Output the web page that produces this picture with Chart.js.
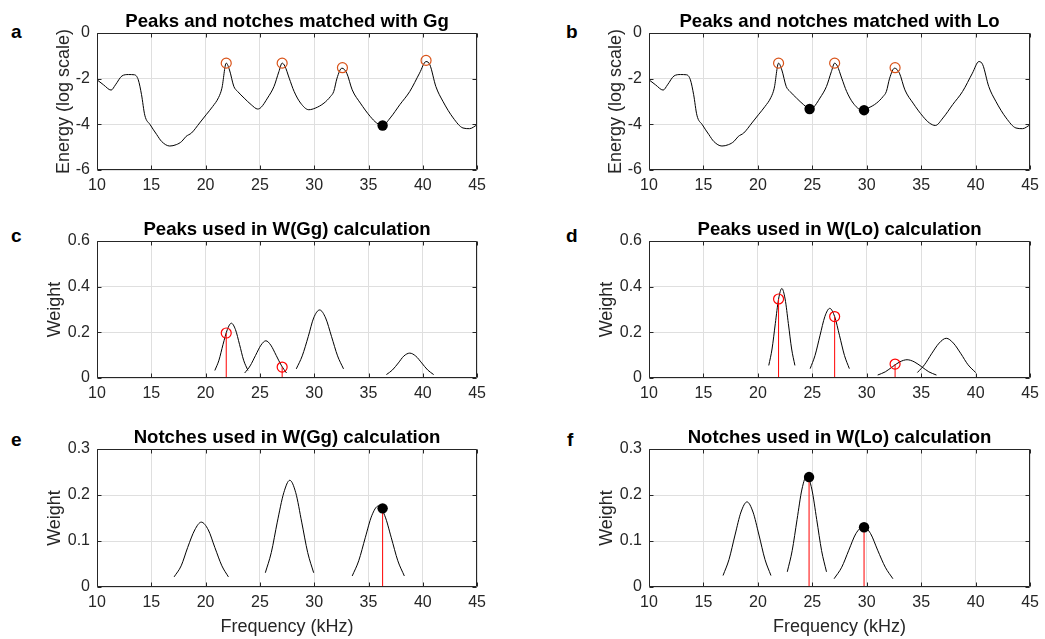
<!DOCTYPE html>
<html>
<head>
<meta charset="utf-8">
<script src="https://cdn.jsdelivr.net/npm/chart.js@4.4.1/dist/chart.umd.min.js"></script>
<style>
  body { margin: 0; background: #fff; }
  #fig { position: relative; width: 1045px; height: 639px; overflow: hidden; }
  #fig canvas { position: absolute; }
  .lbl { position: absolute; font: bold 19px 'Liberation Sans', Arial, sans-serif; line-height: 19px; color: #000; }
</style>
</head>
<body>
<div id="fig">
  <div class="lbl" style="left:11px;top:22px">a</div>
  <div class="lbl" style="left:566px;top:22px">b</div>
  <div class="lbl" style="left:11px;top:226px">c</div>
  <div class="lbl" style="left:566px;top:226px">d</div>
  <div class="lbl" style="left:11px;top:430px">e</div>
  <div class="lbl" style="left:567px;top:430px">f</div>
</div>
<script>
// tick labels
var xTicks = [10, 15, 20, 25, 30, 35, 40, 45];
var energyTicks = [-6, -4, -2, 0];
var peakTicks = [0, 0.2, 0.4, 0.6];
var notchTicks = [0, 0.1, 0.2, 0.3];

// spectrum (same in a and b)
var freq = [10, 10.6, 11.3, 11.7, 12.3, 12.9, 13.45, 13.8, 14.1, 14.4, 14.9, 15.5, 15.95, 16.7, 17.3, 17.8,
  18.2, 18.7, 19.45, 20.05, 20.65, 21.2, 21.5, 21.9, 22.2, 22.6, 22.95, 23.55, 24.2, 24.8, 25.1, 25.7,
  26.3, 26.75, 27.05, 27.3, 27.7, 28.15, 28.75, 29.5, 30.1, 30.9, 31.5, 31.8, 32.1, 32.55, 33.0, 33.5,
  34.25, 35.15, 35.75, 36.3, 37.0, 37.9, 38.8, 39.7, 40.3, 40.65, 41.2, 41.85, 42.8, 43.7, 44.3, 45];
var energy = [-2.05, -2.27, -2.5, -2.27, -1.88, -1.82, -1.83, -2.05, -2.7, -3.6, -4.02, -4.45, -4.75, -4.95, -4.89, -4.75,
  -4.53, -4.38, -3.94, -3.58, -3.22, -2.82, -2.42, -1.32, -1.62, -2.34, -2.56, -2.85, -3.14, -3.33, -3.26, -2.85,
  -2.34, -1.69, -1.32, -1.45, -1.98, -2.56, -3.07, -3.36, -3.29, -3.07, -2.78, -2.56, -1.98, -1.54, -1.76, -2.49,
  -3.07, -3.65, -3.94, -4.05, -3.72, -3.13, -2.56, -1.76, -1.25, -1.39, -2.34, -2.99, -3.72, -4.16, -4.19, -4.02];

// matched peaks / notches on the spectrum
var ggPeakF = [21.9, 27.05, 32.6, 40.3];
var ggPeakE = [-1.32, -1.32, -1.52, -1.2];
var ggNotchF = [36.3];
var ggNotchE = [-4.05];
var loPeakF = [21.9, 27.05, 32.6];
var loPeakE = [-1.32, -1.32, -1.52];
var loNotchF = [24.75, 29.75];
var loNotchE = [-3.33, -3.38];

// weight curves, panel c
var ggPeakCurveX = [
  [20.85, 21.23, 21.6, 22.0, 22.37, 22.75, 23.13, 23.5, 23.9],
  [23.6, 24.1, 24.6, 25.1, 25.55, 26.0, 26.5, 27.0, 27.45],
  [28.35, 28.9, 29.45, 29.95, 30.5, 31.05, 31.6, 32.15, 32.7],
  [36.65, 37.2, 37.75, 38.25, 38.8, 39.35, 39.9, 40.45, 41.0]];
var ggPeakCurveW = [
  [0.033, 0.078, 0.146, 0.212, 0.24, 0.212, 0.146, 0.078, 0.033],
  [0.022, 0.053, 0.099, 0.144, 0.163, 0.144, 0.099, 0.053, 0.022],
  [0.04, 0.097, 0.181, 0.263, 0.298, 0.263, 0.181, 0.097, 0.04],
  [0.015, 0.035, 0.066, 0.096, 0.109, 0.096, 0.066, 0.035, 0.015]];
var ggPeakUsedF = [21.9, 27.05];
var ggPeakUsedW = [0.197, 0.048];

// panel d
var loPeakCurveX = [
  [21.0, 21.3, 21.6, 21.9, 22.2, 22.5, 22.8, 23.1, 23.4],
  [24.8, 25.25, 25.7, 26.15, 26.6, 27.05, 27.5, 27.95, 28.4],
  [31.0, 31.7, 32.35, 33.05, 33.7, 34.35, 35.05, 35.7, 36.4],
  [34.65, 35.3, 35.95, 36.65, 37.3, 37.95, 38.65, 39.3, 40.0]];
var loPeakCurveW = [
  [0.055, 0.127, 0.238, 0.346, 0.392, 0.346, 0.238, 0.127, 0.055],
  [0.041, 0.099, 0.185, 0.269, 0.305, 0.269, 0.185, 0.099, 0.041],
  [0.013, 0.027, 0.049, 0.071, 0.08, 0.071, 0.049, 0.027, 0.013],
  [0.024, 0.058, 0.106, 0.153, 0.174, 0.153, 0.106, 0.058, 0.024]];
var loPeakUsedF = [21.9, 27.05, 32.6];
var loPeakUsedW = [0.346, 0.269, 0.061];

// panel e
var ggNotchCurveX = [
  [17.1, 17.75, 18.35, 19.0, 19.6, 20.25, 20.85, 21.5, 22.1],
  [25.5, 26.05, 26.6, 27.2, 27.75, 28.3, 28.85, 29.4, 29.95],
  [33.5, 34.1, 34.7, 35.3, 35.9, 36.5, 37.1, 37.7, 38.3]];
var ggNotchCurveW = [
  [0.022, 0.046, 0.086, 0.124, 0.141, 0.124, 0.086, 0.046, 0.022],
  [0.031, 0.075, 0.141, 0.205, 0.232, 0.205, 0.141, 0.075, 0.031],
  [0.024, 0.057, 0.107, 0.155, 0.176, 0.155, 0.107, 0.057, 0.024]];
var ggNotchUsedF = [36.3];
var ggNotchUsedW = [0.171];

// panel f
var loNotchCurveX = [
  [16.8, 17.35, 17.9, 18.45, 19.0, 19.55, 20.1, 20.65, 21.2],
  [22.7, 23.15, 23.6, 24.05, 24.5, 24.95, 25.4, 25.85, 26.3],
  [27.0, 27.7, 28.35, 29.0, 29.7, 30.35, 31.0, 31.7, 32.4]];
var loNotchCurveW = [
  [0.025, 0.06, 0.113, 0.163, 0.185, 0.163, 0.113, 0.06, 0.025],
  [0.033, 0.079, 0.147, 0.213, 0.242, 0.213, 0.147, 0.079, 0.033],
  [0.018, 0.043, 0.08, 0.116, 0.131, 0.116, 0.08, 0.043, 0.018]];
var loNotchUsedF = [24.7, 29.75];
var loNotchUsedW = [0.239, 0.13];

var FONT = "'Liberation Sans', Arial, Helvetica, sans-serif";
Chart.defaults.font.family = FONT;
Chart.defaults.color = '#262626';

// matlab-like box, inward ticks and a title centred on the plot area
var frame = {
  id: 'frame',
  afterDraw: function (chart, args, opts) {
    var ctx = chart.ctx, a = chart.chartArea;
    var sx = chart.scales.x, sy = chart.scales.y;
    var l = Math.round(a.left) + 0.5, r = Math.round(a.right) - 0.5;
    var t = Math.round(a.top) + 0.5, b = Math.round(a.bottom) - 0.5;
    ctx.save();
    ctx.strokeStyle = '#262626';
    ctx.lineWidth = 1;
    ctx.beginPath();
    ctx.rect(l, t, r - l, b - t);
    sx.ticks.forEach(function (tk) {
      var p = Math.round(sx.getPixelForValue(tk.value)) + 0.5;
      ctx.moveTo(p, b); ctx.lineTo(p, b - 4);
      ctx.moveTo(p, t); ctx.lineTo(p, t + 4);
    });
    sy.ticks.forEach(function (tk) {
      var p = Math.round(sy.getPixelForValue(tk.value)) + 0.5;
      ctx.moveTo(l, p); ctx.lineTo(l + 4, p);
      ctx.moveTo(r, p); ctx.lineTo(r - 4, p);
    });
    ctx.stroke();
    ctx.font = 'bold 18.6px ' + FONT;
    ctx.fillStyle = '#000';
    ctx.textAlign = 'center';
    ctx.textBaseline = 'alphabetic';
    ctx.fillText(opts.title, (a.left + a.right) / 2, a.top - 6);
    ctx.restore();
  }
};

function pts(xs, ys) {
  return xs.map(function (x, i) { return { x: x, y: ys[i] }; });
}
function curve(xs, ys) {
  return { data: pts(xs, ys), showLine: true, borderColor: '#000', borderWidth: 1,
    pointRadius: 0, cubicInterpolationMode: 'monotone', order: 2 };
}
function stems(xs, ys) {
  return xs.map(function (x, i) {
    return { data: [{ x: x, y: 0 }, { x: x, y: ys[i] }], showLine: true,
      borderColor: '#ff0000', borderWidth: 1, pointRadius: 0, order: 1 };
  });
}
function rings(xs, ys, color) {
  return { data: pts(xs, ys), showLine: false, pointRadius: 5, pointBorderWidth: 1.2,
    pointBorderColor: color, pointBackgroundColor: 'rgba(0,0,0,0)', order: 0 };
}
function dots(xs, ys) {
  return { data: pts(xs, ys), showLine: false, pointRadius: 5.2, pointBorderWidth: 0,
    pointBackgroundColor: '#000', order: 0 };
}

// yPad: left room before the y scale, moves the rotated y title
function panel(box, yPad, title, yTitle, yTicks, xTitle, datasets) {
  var xh = xTitle ? 55 : 30;
  var cv = document.createElement('canvas');
  var w = 97 + (box.R - box.L) + 12;
  var h = 33 + (box.B - box.T) + xh;
  cv.width = w; cv.height = h;
  cv.style.left = (box.L - 97) + 'px';
  cv.style.top = (box.T - 33) + 'px';
  document.getElementById('fig').appendChild(cv);
  var grid = { color: '#dfdfdf', lineWidth: 1, drawTicks: false };
  return new Chart(cv.getContext('2d'), {
    type: 'scatter',
    data: { datasets: datasets },
    plugins: [frame],
    options: {
      responsive: false,
      animation: false,
      events: [],
      layout: { padding: { left: yPad, top: 33, right: 12, bottom: 0 } },
      plugins: { legend: { display: false }, tooltip: { enabled: false }, frame: { title: title } },
      scales: {
        x: {
          type: 'linear', min: 10, max: 45,
          afterBuildTicks: function (s) { s.ticks = xTicks.map(function (v) { return { value: v }; }); },
          afterFit: function (s) { s.height = xh; },
          grid: grid, border: { display: false },
          ticks: { padding: 6, font: { size: 16 }, color: '#262626', maxRotation: 0, autoSkip: false },
          title: { display: !!xTitle, text: xTitle || '', font: { size: 18 }, color: '#262626',
            padding: { top: 0, bottom: 4 } }
        },
        y: {
          type: 'linear', min: yTicks[0], max: yTicks[yTicks.length - 1],
          afterBuildTicks: function (s) { s.ticks = yTicks.map(function (v) { return { value: v }; }); },
          afterFit: function (s) { s.width = 97 - yPad; },
          grid: grid, border: { display: false },
          ticks: { padding: 7, font: { size: 16 }, color: '#262626', autoSkip: false },
          title: { display: true, text: yTitle, font: { size: 18 }, color: '#262626',
            padding: { top: 4, bottom: 0 } }
        }
      }
    }
  });
}

var ORANGE = '#d95319';

panel({ L: 97, R: 480, T: 33, B: 170 }, 49, 'Peaks and notches matched with Gg', 'Energy (log scale)', energyTicks, null,
  [rings(ggPeakF, ggPeakE, ORANGE), dots(ggNotchF, ggNotchE), curve(freq, energy)]);

panel({ L: 649, R: 1033, T: 33, B: 170 }, 49, 'Peaks and notches matched with Lo', 'Energy (log scale)', energyTicks, null,
  [rings(loPeakF, loPeakE, ORANGE), dots(loNotchF, loNotchE), curve(freq, energy)]);

panel({ L: 97, R: 480, T: 241, B: 378 }, 40, 'Peaks used in W(Gg) calculation', 'Weight', peakTicks, null,
  [rings(ggPeakUsedF, ggPeakUsedW, '#ff0000')]
    .concat(stems(ggPeakUsedF, ggPeakUsedW))
    .concat(ggPeakCurveX.map(function (xs, i) { return curve(xs, ggPeakCurveW[i]); })));

panel({ L: 649, R: 1033, T: 241, B: 378 }, 40, 'Peaks used in W(Lo) calculation', 'Weight', peakTicks, null,
  [rings(loPeakUsedF, loPeakUsedW, '#ff0000')]
    .concat(stems(loPeakUsedF, loPeakUsedW))
    .concat(loPeakCurveX.map(function (xs, i) { return curve(xs, loPeakCurveW[i]); })));

panel({ L: 97, R: 480, T: 449, B: 587 }, 40, 'Notches used in W(Gg) calculation', 'Weight', notchTicks, 'Frequency (kHz)',
  [dots(ggNotchUsedF, ggNotchUsedW)]
    .concat(stems(ggNotchUsedF, ggNotchUsedW))
    .concat(ggNotchCurveX.map(function (xs, i) { return curve(xs, ggNotchCurveW[i]); })));

panel({ L: 649, R: 1033, T: 449, B: 587 }, 40, 'Notches used in W(Lo) calculation', 'Weight', notchTicks, 'Frequency (kHz)',
  [dots(loNotchUsedF, loNotchUsedW)]
    .concat(stems(loNotchUsedF, loNotchUsedW))
    .concat(loNotchCurveX.map(function (xs, i) { return curve(xs, loNotchCurveW[i]); })));
</script>
</body>
</html>
